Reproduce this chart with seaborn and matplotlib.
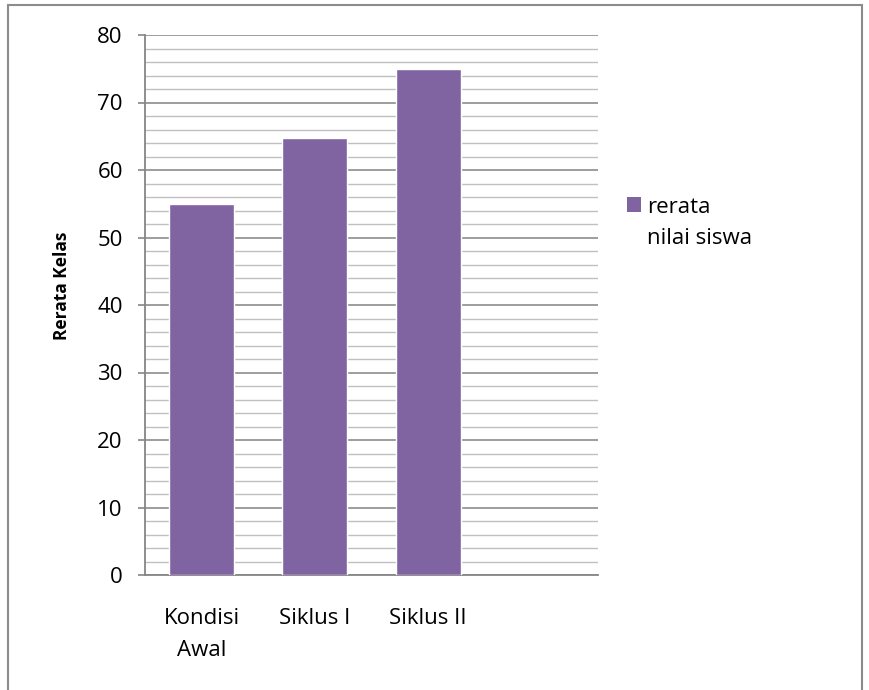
import matplotlib
matplotlib.use("Agg")
import matplotlib.pyplot as plt
import seaborn as sns
import numpy as np
import pandas as pd
from matplotlib.patches import Rectangle, Patch
from matplotlib.ticker import MultipleLocator

# data
categories = ["Kondisi\nAwal", "Siklus I", "Siklus II"]
values = [55, 64.7, 75]
series_name = "rerata\nnilai siswa"

df = pd.DataFrame({"kategori": categories, "nilai": values})

sns.set_style("white")
plt.rcParams["font.family"] = ["Open Sans", "DejaVu Sans"]
plt.rcParams["text.color"] = "black"
plt.rcParams["xtick.color"] = "black"
plt.rcParams["ytick.color"] = "black"
plt.rcParams["axes.labelcolor"] = "black"

fig = plt.figure(figsize=(8.69, 6.9), dpi=100)
ax = fig.add_axes([145 / 869, 1 - 575 / 690, (598 - 145) / 869, (575 - 35) / 690])

bar_color = "#8064a2"
sns.barplot(data=df, x="kategori", y="nilai", color=bar_color, width=0.575,
            saturation=1, ax=ax, zorder=3)

ax.set_xlim(-0.5, 3.5)
ax.set_ylim(0, 80)
ax.yaxis.set_major_locator(MultipleLocator(10))
ax.yaxis.set_minor_locator(MultipleLocator(2))
ax.grid(which="major", axis="y", color="#8c8c8c", linewidth=1.2, zorder=0)
ax.grid(which="minor", axis="y", color="#c0c0c0", linewidth=1.0, zorder=0)
ax.set_axisbelow(True)

for side in ["top", "right"]:
    ax.spines[side].set_visible(False)
for side in ["left", "bottom"]:
    ax.spines[side].set_color("#868686")
    ax.spines[side].set_linewidth(1.3)

ax.tick_params(axis="y", which="major", length=5, width=1.2, color="#868686",
               labelsize=16, pad=11, left=True)
ax.tick_params(axis="y", which="minor", length=0)
ax.tick_params(axis="x", length=0, labelsize=16, pad=24)
ax.set_xticks(range(len(categories)))
ax.set_xticklabels(categories, linespacing=1.65)
ax.set_xlabel("")
ax.set_ylabel("Rerata Kelas", fontsize=12.5, fontweight="bold")
ax.yaxis.set_label_coords(-0.163, 0.535)

handle = Patch(facecolor=bar_color, edgecolor="none")
leg = fig.legend([handle], [series_name], loc="upper left",
                 bbox_to_anchor=(627 / 869, 1 - 197 / 690), frameon=False,
                 fontsize=16, handlelength=0.64, handleheight=0.64,
                 handletextpad=0.28, labelspacing=0.2, borderpad=0,
                 borderaxespad=0)
for t in leg.get_texts():
    t.set_linespacing(1.6)
# square next to the first line of the label, as in the reference
for col in leg._legend_handle_box.get_children():
    for row in col.get_children():
        row.align = "top"

# outer chart border
fig.patches.append(Rectangle((8 / 869, -0.02), (862 - 8) / 869, 1 - 5 / 690 + 0.02,
                             transform=fig.transFigure, fill=False,
                             edgecolor="#8c8c8c", linewidth=1.5))

fig.savefig("out.png", dpi=100)
